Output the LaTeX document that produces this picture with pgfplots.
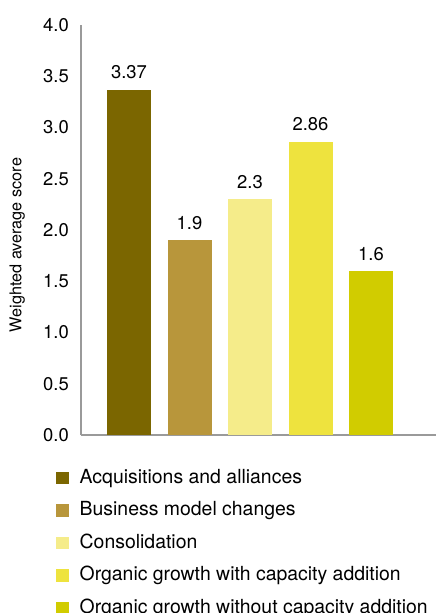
\documentclass[border=0pt]{standalone}
\usepackage{pgfplots}
\pgfplotsset{compat=1.18}
\usepackage{fontspec}
\setmainfont{TeX Gyre Heros}

\definecolor{cAcq}{HTML}{7B6600}
\definecolor{cBus}{HTML}{B8963B}
\definecolor{cCon}{HTML}{F5EC8A}
\definecolor{cOrgW}{HTML}{EEE33E}
\definecolor{cOrgWo}{HTML}{D1CC00}
\definecolor{axisgray}{HTML}{9A9A9A}

\begin{document}
\begin{tikzpicture}
\clip (-81bp,-178bp) rectangle (355bp,435bp);
\begin{axis}[
  scale only axis,
  width=355bp, height=410bp,
  xmin=-0.7934, xmax=5.074,
  ymin=0, ymax=4,
  ytick={0,0.5,...,4},
  xtick=\empty,
  axis lines*=left,
  axis line style={draw=axisgray, line width=1.7bp},
  ytick style={draw=none},
  /pgf/number format/assume math mode=true,
  yticklabel style={font=\fontsize{18.5}{22}\selectfont, inner sep=0pt, xshift=-12bp,
    /pgf/number format/.cd, fixed, fixed zerofill, precision=1},
  ylabel={Weighted average score},
  ylabel style={at={(axis description cs:-0.180,0.463)}, anchor=center,
    font=\fontsize{16.3}{19}\selectfont},
  ybar, bar width=44bp, bar shift=0pt,
  nodes near coords={\pgfmathprintnumber[fixed,precision=2]{\pgfplotspointmeta}},
  every node near coord/.append style={anchor=base, yshift=11bp, inner sep=0pt,
    font=\fontsize{18.5}{22}\selectfont, text=black},
  legend image code/.code={\fill[#1] (0bp,-6.3bp) rectangle (12.7bp,6.3bp);},
  legend style={at={(0,0)}, anchor=north west, xshift=-25bp, yshift=-34bp,
    draw=none, fill=none, inner sep=0pt, outer sep=0pt,
    font=\fontsize{19.5}{22}\selectfont,
    row sep=14.5bp, column sep=11bp,
    nodes={inner sep=0pt, text height=14bp, text depth=4bp}},
  legend cell align=left,
  clip=false,
]
\addplot[fill=cAcq, draw=none]   coordinates {(0,3.37)};
\addplot[fill=cBus, draw=none]   coordinates {(1,1.9)};
\addplot[fill=cCon, draw=none]   coordinates {(2,2.3)};
\addplot[fill=cOrgW, draw=none]  coordinates {(3,2.86)};
\addplot[fill=cOrgWo, draw=none] coordinates {(4,1.6)};
\legend{Acquisitions and alliances, Business model changes, Consolidation,
  Organic growth with capacity addition, Organic growth without capacity addition}
\end{axis}
\end{tikzpicture}
\end{document}
